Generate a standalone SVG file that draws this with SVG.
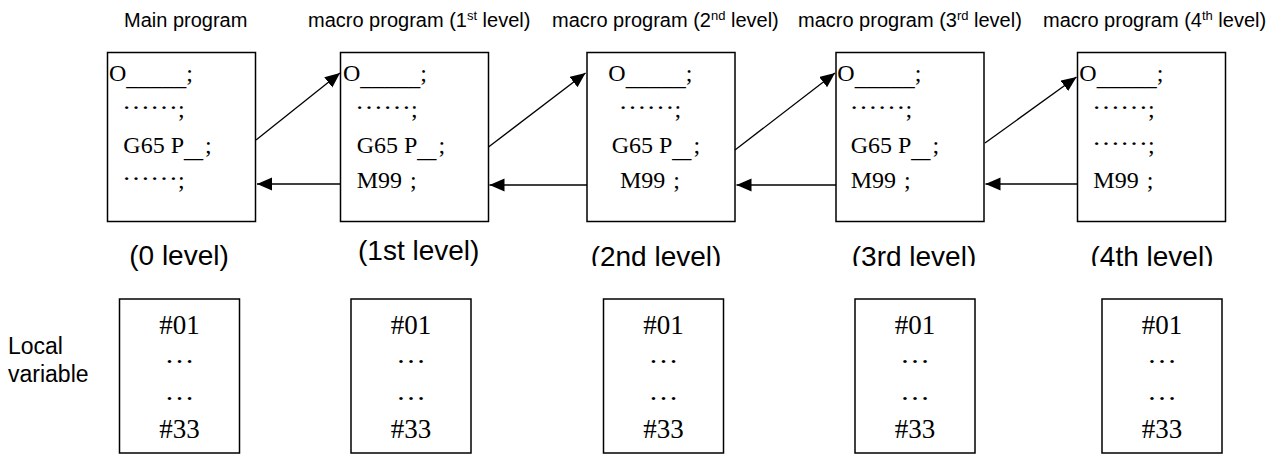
<svg xmlns="http://www.w3.org/2000/svg" width="1275" height="454" viewBox="0 0 1275 454">
<style>
.box{fill:#fff;stroke:#000;stroke-width:1.5}
.hdr{font-family:"Liberation Sans",Arial,sans-serif;font-size:20px;fill:#000}
.sup{font-size:13px}
.lvl{font-family:"Liberation Sans",Arial,sans-serif;font-size:28px;fill:#000;text-anchor:middle}
.code{font-family:"Liberation Serif","Times New Roman",serif;font-size:24px;fill:#000}
.var{font-family:"Liberation Serif","Times New Roman",serif;font-size:27px;fill:#000;text-anchor:middle}
.vdots{font-size:25px}
.side{font-family:"Liberation Sans",Arial,sans-serif;font-size:23px;fill:#000}
.conn line{stroke:#000;stroke-width:1.3;marker-end:url(#ah)}
</style>
<defs>
<marker id="ah" markerUnits="userSpaceOnUse" markerWidth="16" markerHeight="14" refX="15" refY="6.5" orient="auto"><path d="M0,0 L15,6.5 L0,13 z" fill="#000"/></marker>
<clipPath id="lvlclip"><rect x="500" y="225" width="775" height="41"/></clipPath>
</defs>

<g id="headers">
<text class="hdr" x="124" y="27">Main program</text>
<text class="hdr" x="308" y="27">macro program (1<tspan class="sup" dy="-7">st</tspan><tspan dy="7"> level)</tspan></text>
<text class="hdr" x="552" y="27">macro program (2<tspan class="sup" dy="-7">nd</tspan><tspan dy="7"> level)</tspan></text>
<text class="hdr" x="798" y="27">macro program (3<tspan class="sup" dy="-7">rd</tspan><tspan dy="7"> level)</tspan></text>
<text class="hdr" x="1043" y="27">macro program (4<tspan class="sup" dy="-7">th</tspan><tspan dy="7"> level)</tspan></text>
</g>

<g id="prog0">
<rect class="box" x="107.5" y="52.5" width="148" height="169"/>
<text class="code" x="109" y="81">O<tspan dy="4">_____</tspan><tspan dy="-4">;</tspan></text>
<text class="code" x="122" y="117"><tspan dy="-8" textLength="56" lengthAdjust="spacingAndGlyphs">……</tspan><tspan dy="8">;</tspan></text>
<text class="code" x="123.3" y="153">G65 P<tspan dy="4" textLength="19" lengthAdjust="spacingAndGlyphs">_</tspan><tspan dy="-4" dx="2">;</tspan></text>
<text class="code" x="122" y="188"><tspan dy="-8" textLength="56" lengthAdjust="spacingAndGlyphs">……</tspan><tspan dy="8">;</tspan></text>
</g>

<g id="prog1">
<rect class="box" x="340.5" y="52.5" width="148" height="169"/>
<text class="code" x="343" y="81">O<tspan dy="4">_____</tspan><tspan dy="-4">;</tspan></text>
<text class="code" x="355" y="117"><tspan dy="-8" textLength="56" lengthAdjust="spacingAndGlyphs">……</tspan><tspan dy="8">;</tspan></text>
<text class="code" x="356.7" y="153">G65 P<tspan dy="4" textLength="19" lengthAdjust="spacingAndGlyphs">_</tspan><tspan dy="-4" dx="2">;</tspan></text>
<text class="code" x="356.7" y="188">M99<tspan dx="8">;</tspan></text>
</g>

<g id="prog2">
<rect class="box" x="587" y="52.5" width="148" height="169"/>
<text class="code" x="608.3" y="81">O<tspan dy="4">_____</tspan><tspan dy="-4">;</tspan></text>
<text class="code" x="618.5" y="117"><tspan dy="-8" textLength="56" lengthAdjust="spacingAndGlyphs">……</tspan><tspan dy="8">;</tspan></text>
<text class="code" x="611.7" y="153">G65 P<tspan dy="4" textLength="19" lengthAdjust="spacingAndGlyphs">_</tspan><tspan dy="-4" dx="2">;</tspan></text>
<text class="code" x="620" y="188">M99<tspan dx="8">;</tspan></text>
</g>

<g id="prog3">
<rect class="box" x="836" y="52.5" width="148" height="169"/>
<text class="code" x="837.3" y="81">O<tspan dy="4">_____</tspan><tspan dy="-4">;</tspan></text>
<text class="code" x="849.5" y="117"><tspan dy="-8" textLength="56" lengthAdjust="spacingAndGlyphs">……</tspan><tspan dy="8">;</tspan></text>
<text class="code" x="850.7" y="153">G65 P<tspan dy="4" textLength="19" lengthAdjust="spacingAndGlyphs">_</tspan><tspan dy="-4" dx="2">;</tspan></text>
<text class="code" x="850.7" y="188">M99<tspan dx="8">;</tspan></text>
</g>

<g id="prog4">
<rect class="box" x="1077.5" y="52.5" width="148" height="169"/>
<text class="code" x="1079.3" y="81">O<tspan dy="4">_____</tspan><tspan dy="-4">;</tspan></text>
<text class="code" x="1092" y="117"><tspan dy="-8" textLength="56" lengthAdjust="spacingAndGlyphs">……</tspan><tspan dy="8">;</tspan></text>
<text class="code" x="1092" y="153"><tspan dy="-8" textLength="56" lengthAdjust="spacingAndGlyphs">……</tspan><tspan dy="8">;</tspan></text>
<text class="code" x="1093.3" y="188">M99<tspan dx="8">;</tspan></text>
</g>

<g id="connectors" class="conn">
<line x1="256" y1="140" x2="340" y2="73"/>
<line x1="488.5" y1="147" x2="585.5" y2="73"/>
<line x1="735" y1="150" x2="835" y2="73"/>
<line x1="985" y1="143" x2="1076.5" y2="77"/>
<line x1="340.5" y1="184" x2="257" y2="184"/>
<line x1="587" y1="185" x2="489.5" y2="185"/>
<line x1="836" y1="185" x2="736.5" y2="185"/>
<line x1="1077.5" y1="184" x2="985.5" y2="184"/>
</g>

<g id="levels">
<text class="lvl" x="179" y="265">(0 level)</text>
<text class="lvl" x="418.7" y="260">(1st level)</text>
<g clip-path="url(#lvlclip)">
<text class="lvl" x="656" y="265.5">(2nd level)</text>
<text class="lvl" x="914" y="265.5">(3rd level)</text>
<text class="lvl" x="1152" y="265.5">(4th level)</text>
</g>
</g>

<g id="side-label">
<text class="side" x="8" y="354">Local</text>
<text class="side" x="8" y="382">variable</text>
</g>

<g id="vars0">
<rect class="box" x="119.5" y="299" width="120" height="154"/>
<text class="var" x="179.5" y="334">#01</text>
<text class="var vdots" x="179.5" y="363" textLength="30" lengthAdjust="spacingAndGlyphs">…</text>
<text class="var vdots" x="179.5" y="400" textLength="30" lengthAdjust="spacingAndGlyphs">…</text>
<text class="var" x="179.5" y="438">#33</text>
</g>
<g id="vars1">
<rect class="box" x="351" y="299" width="120" height="154"/>
<text class="var" x="411" y="334">#01</text>
<text class="var vdots" x="411" y="363" textLength="30" lengthAdjust="spacingAndGlyphs">…</text>
<text class="var vdots" x="411" y="400" textLength="30" lengthAdjust="spacingAndGlyphs">…</text>
<text class="var" x="411" y="438">#33</text>
</g>
<g id="vars2">
<rect class="box" x="603.5" y="299" width="120" height="154"/>
<text class="var" x="663.5" y="334">#01</text>
<text class="var vdots" x="663.5" y="363" textLength="30" lengthAdjust="spacingAndGlyphs">…</text>
<text class="var vdots" x="663.5" y="400" textLength="30" lengthAdjust="spacingAndGlyphs">…</text>
<text class="var" x="663.5" y="438">#33</text>
</g>
<g id="vars3">
<rect class="box" x="855" y="299" width="120" height="154"/>
<text class="var" x="915" y="334">#01</text>
<text class="var vdots" x="915" y="363" textLength="30" lengthAdjust="spacingAndGlyphs">…</text>
<text class="var vdots" x="915" y="400" textLength="30" lengthAdjust="spacingAndGlyphs">…</text>
<text class="var" x="915" y="438">#33</text>
</g>
<g id="vars4">
<rect class="box" x="1102" y="299" width="120" height="154"/>
<text class="var" x="1162" y="334">#01</text>
<text class="var vdots" x="1162" y="363" textLength="30" lengthAdjust="spacingAndGlyphs">…</text>
<text class="var vdots" x="1162" y="400" textLength="30" lengthAdjust="spacingAndGlyphs">…</text>
<text class="var" x="1162" y="438">#33</text>
</g>
</svg>
